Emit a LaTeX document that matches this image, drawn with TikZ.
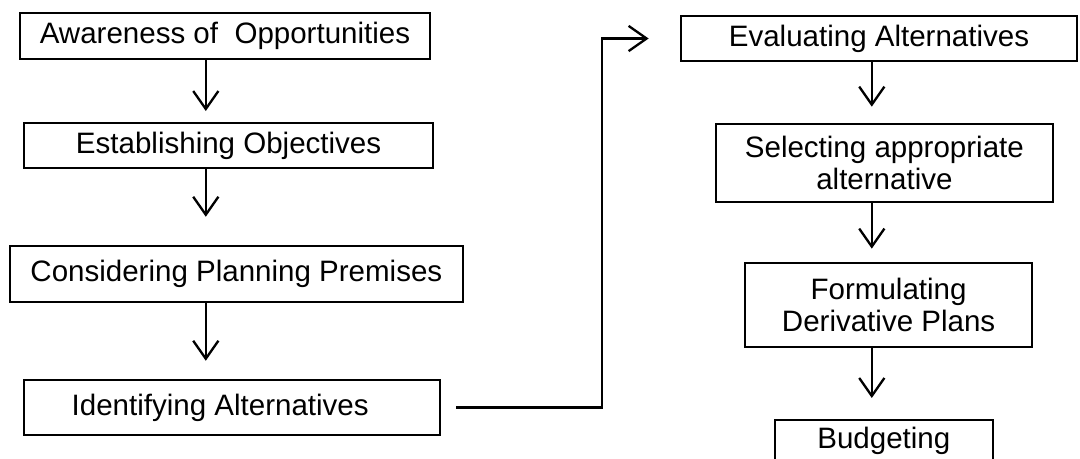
\documentclass[tikz,border=0pt]{standalone}
\usepackage{fontspec}
\setmainfont{Liberation Sans}
\usepackage{tikz}
\usetikzlibrary{arrows.meta, positioning, calc}

\begin{document}
\begin{tikzpicture}[
    stagebox/.style={draw, line width=1.1pt, rectangle, align=center, inner sep=2pt,
        font=\fontsize{14}{15.5}\selectfont},
    flowarrow/.style={line width=1.1pt, -{Straight Barb[length=0.3cm, width=0.42cm, line width=1.1pt]}}
]
    % Frame
    \useasboundingbox (0, 0) rectangle (18, 7.65);

    % Left column
    \node[stagebox, minimum width=6.83cm, minimum height=0.77cm] (aware) at (3.75, 7.05) {Awareness of\ \ Opportunities};
    \node[stagebox, minimum width=6.82cm, minimum height=0.75cm] (objectives) at (3.81, 5.225) {Establishing Objectives};
    \node[stagebox, minimum width=7.55cm, minimum height=0.93cm] (premises) at (3.94, 3.083) {Considering Planning Premises};
    \node[stagebox, minimum width=6.93cm, minimum height=0.92cm] (identify) at (3.87, 0.858) {Identifying Alternatives\hspace{0.4cm}};

    % Right column
    \node[stagebox, minimum width=6.6cm, minimum height=0.75cm] (evaluate) at (14.65, 7.008) {Evaluating Alternatives};
    \node[stagebox, minimum width=5.62cm, minimum height=1.3cm] (select) at (14.74, 4.933) {Selecting appropriate\\alternative};
    \node[stagebox, minimum width=4.78cm, minimum height=1.4cm] (derive) at (14.81, 2.567) {Formulating\\Derivative Plans};
    \node[stagebox, minimum width=3.63cm, minimum height=1.0cm, anchor=north,
        text height=0.35cm, text depth=0.42cm] (budget) at (14.73, 0.667) {Budgeting};

    % Arrow columns
    \coordinate (leftcol) at (3.43, 0);
    \coordinate (rightcol) at (14.53, 0);
    \coordinate (turn) at (10.03, 0);

    % Arrows
    \draw[flowarrow, shorten >=0.18cm] (aware.south -| leftcol) -- (objectives.north -| leftcol);
    \draw[flowarrow, shorten >=0.47cm] (objectives.south -| leftcol) -- (premises.north -| leftcol);
    \draw[flowarrow, shorten >=0.3cm] (premises.south -| leftcol) -- (identify.north -| leftcol);
    \draw[flowarrow, shorten <=0.25cm, shorten >=0.52cm] (identify.east) -| (turn |- evaluate.west) -- (evaluate.west);
    \draw[flowarrow, shorten >=0.27cm] (evaluate.south -| rightcol) -- (select.north -| rightcol);
    \draw[flowarrow, shorten >=0.22cm] (select.south -| rightcol) -- (derive.north -| rightcol);
    \draw[flowarrow, shorten >=0.35cm] (derive.south -| rightcol) -- (budget.north -| rightcol);
\end{tikzpicture}
\end{document}
